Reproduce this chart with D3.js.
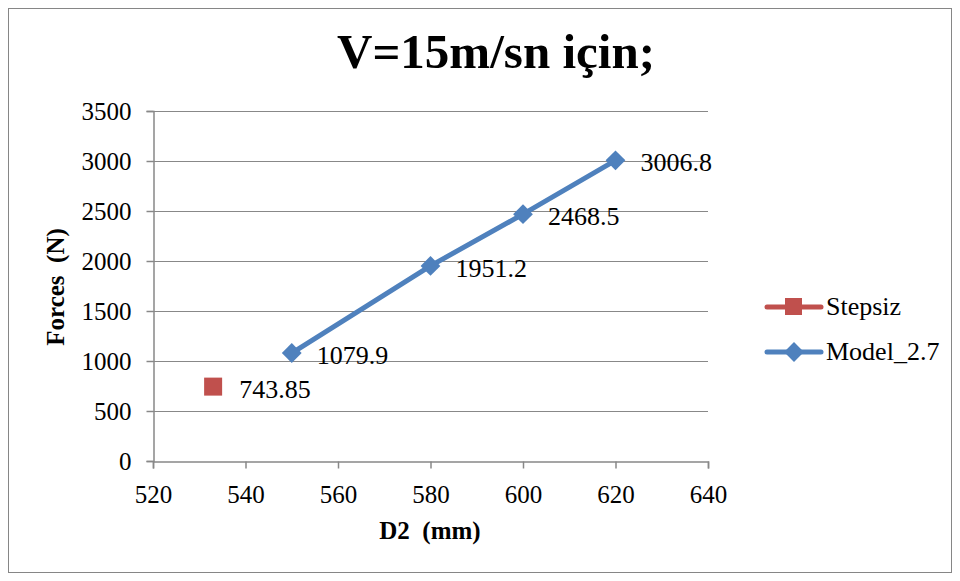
<!DOCTYPE html>
<html><head><meta charset="utf-8">
<script src="https://cdn.jsdelivr.net/npm/d3@7"></script>
<style>body{margin:0;background:#fff}svg{display:block}</style>
</head><body>
<svg id="c" width="960" height="581"></svg>
<script>
const title = "V=15m/sn için;";
const xLabel = "D2  (mm)";
const yLabel = "Forces  (N)";
const stepsizX = [533];
const stepsizY = [743.85];
const modelX = [550, 580, 600, 620];
const modelY = [1079.9, 1951.2, 2468.5, 3006.8];
const xTicks = [520, 540, 560, 580, 600, 620, 640];
const yTicks = [0, 500, 1000, 1500, 2000, 2500, 3000, 3500];
const seriesNames = ["Stepsiz", "Model_2.7"];
const colors = ["#C0504D", "#4F81BD"];
const FF = '"Liberation Serif", "Times New Roman", serif';

const svg = d3.select("#c").style("font-family", FF);
svg.append("rect").attr("x",8.5).attr("y",8.5).attr("width",943).attr("height",564)
  .attr("fill","#fff").attr("stroke","#868686").attr("stroke-width",1);

const x = d3.scaleLinear().domain([520,640]).range([153,708]);
const y = d3.scaleLinear().domain([0,3500]).range([461,111]);

// gridlines
svg.append("g").selectAll("line").data(yTicks.filter(d=>d>0)).join("line")
  .attr("x1",x(520)).attr("x2",x(640)).attr("y1",d=>y(d)+0.5).attr("y2",d=>y(d)+0.5)
  .attr("stroke","#888").attr("stroke-width",1.2);

const yAxis = svg.append("g").attr("transform",`translate(${x(520)+0.5},0)`)
  .call(d3.axisLeft(y).tickValues(yTicks).tickSize(7).tickPadding(15).tickFormat(d3.format("d")));
const xAxis = svg.append("g").attr("transform",`translate(0,${y(0)+0.5})`)
  .call(d3.axisBottom(x).tickValues(xTicks).tickSize(7).tickPadding(5).tickFormat(d3.format("d")));
[yAxis,xAxis].forEach(a=>{
  a.attr("font-family", null).attr("font-size", null).style("font-family", FF);
  a.select(".domain").attr("stroke","#888").attr("stroke-width",1.5);
  a.selectAll(".tick line").attr("stroke","#888").attr("stroke-width",1.5);
  a.selectAll(".tick text").style("font-size","25px").attr("fill","#000").style("font-family", FF);
});
xAxis.selectAll(".tick text").attr("y",41).attr("dy",0);

const T = (sel)=>sel.style("font-family", FF);

// title
T(svg.append("text")).attr("x",496).attr("y",68).attr("text-anchor","middle")
  .style("font-size","48px").style("font-weight","bold")
  .attr("textLength",318).attr("lengthAdjust","spacingAndGlyphs").text(title);
T(svg.append("text")).attr("x",430).attr("y",539).attr("text-anchor","middle")
  .style("font-size","25px").style("font-weight","bold").style("white-space","pre")
  .text(xLabel);
T(svg.append("text")).attr("transform","translate(64,287) rotate(-90)").attr("text-anchor","middle")
  .style("font-size","25px").style("font-weight","bold").style("white-space","pre")
  .text(yLabel);

// Model line
const model = modelX.map((d,i)=>({x:d,y:modelY[i]}));
svg.append("path").datum(model)
  .attr("d",d3.line().x(d=>x(d.x)).y(d=>y(d.y)))
  .attr("fill","none").attr("stroke",colors[1]).attr("stroke-width",5).attr("stroke-linejoin","round");
const diamond = d3.symbol().type(d3.symbolDiamond2).size(250);
svg.append("g").selectAll("path").data(model).join("path")
  .attr("transform",d=>`translate(${x(d.x)},${y(d.y)})`)
  .attr("d",diamond).attr("fill",colors[1]);
svg.append("g").selectAll("text").data(model).join("text")
  .attr("x",d=>x(d.x)+25).attr("y",d=>y(d.y)+11)
  .style("font-family",FF).style("font-size","26px").text(d=>d.y.toFixed(1));

// Stepsiz
const st = stepsizX.map((d,i)=>({x:d,y:stepsizY[i]}));
svg.append("g").selectAll("rect").data(st).join("rect")
  .attr("x",d=>x(d.x)-9).attr("y",d=>y(d.y)-9).attr("width",18).attr("height",18)
  .attr("fill",colors[0]);
svg.append("g").selectAll("text").data(st).join("text")
  .attr("x",d=>x(d.x)+26).attr("y",d=>y(d.y)+11)
  .style("font-family",FF).style("font-size","26px").text(d=>d.y.toFixed(2));

// legend
const lg = svg.append("g");
seriesNames.forEach((n,i)=>{
  const ly = 307 + i*45;
  lg.append("line").attr("x1",767).attr("x2",821).attr("y1",ly).attr("y2",ly)
    .attr("stroke",colors[i]).attr("stroke-width",5).attr("stroke-linecap","round");
  if(i===0) lg.append("rect").attr("x",785).attr("y",ly-9).attr("width",17).attr("height",17).attr("fill",colors[0]);
  else lg.append("path").attr("transform",`translate(794,${ly})`).attr("d",diamond).attr("fill",colors[1]);
  T(lg.append("text")).attr("x",826).attr("y",ly+8).style("font-size","26px").text(n);
});
</script>
</body></html>
